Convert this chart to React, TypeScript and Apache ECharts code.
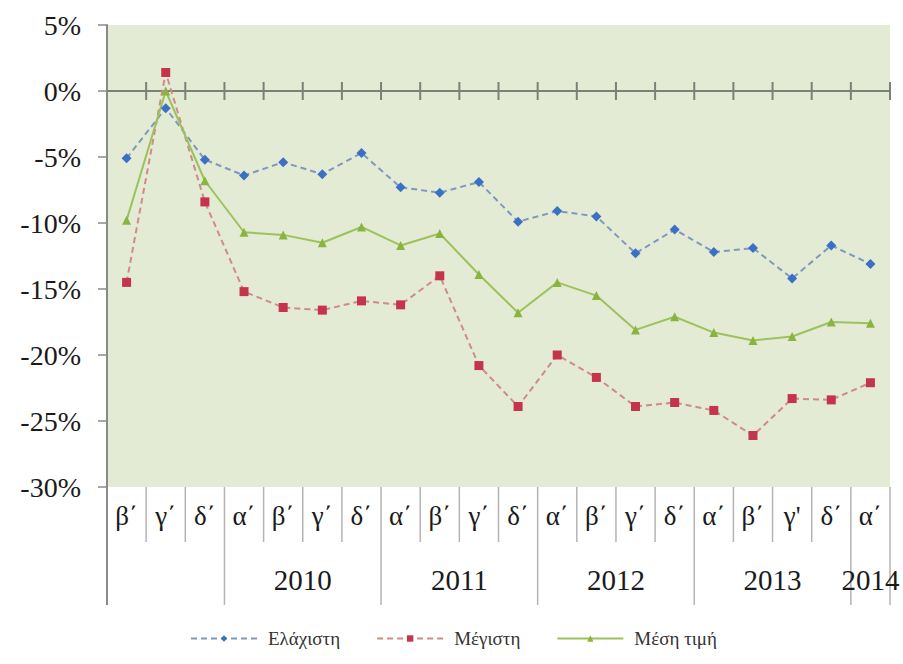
import React, { useEffect, useRef } from "react";
import * as echarts from "echarts";

// Quarter labels (x axis), grouped by year
const quarters = ["β΄", "γ΄", "δ΄", "α΄", "β΄", "γ΄", "δ΄", "α΄", "β΄", "γ΄", "δ΄", "α΄", "β΄", "γ΄", "δ΄", "α΄", "β΄", "γ'", "δ΄", "α΄"];
const yearLabels = ["", "2010", "2011", "2012", "2013", "2014"];
const yearGroupSizes = [3, 4, 4, 4, 4, 1];

// Series values (%)
const minValues = [-5.1, -1.3, -5.2, -6.4, -5.4, -6.3, -4.7, -7.3, -7.7, -6.9, -9.9, -9.1, -9.5, -12.3, -10.5, -12.2, -11.9, -14.2, -11.7, -13.1];
const maxValues = [-14.5, 1.4, -8.4, -15.2, -16.4, -16.6, -15.9, -16.2, -14.0, -20.8, -23.9, -20.0, -21.7, -23.9, -23.6, -24.2, -26.1, -23.3, -23.4, -22.1];
const avgValues = [-9.8, 0.0, -6.8, -10.7, -10.9, -11.5, -10.3, -11.7, -10.8, -13.9, -16.8, -14.5, -15.5, -18.1, -17.1, -18.3, -18.9, -18.6, -17.5, -17.6];

const seriesNames = ["Ελάχιστη", "Μέγιστη", "Μέση τιμή"];
const yMin = -30;
const yMax = 5;
const yInterval = 5;

const SERIF = "Liberation Serif";
const COLORS = {
  minMarker: "#3b70c4",
  minLine: "#7f98bf",
  maxMarker: "#c4344a",
  maxLine: "#d08a8a",
  avgMarker: "#8ab440",
  avgLine: "#9cc25c",
};

export default function App() {
  const ref = useRef<HTMLDivElement>(null);

  useEffect(() => {
    if (!ref.current) return;
    const chart = echarts.init(ref.current, null, { renderer: "svg" });
    const cats = quarters.map((q, i) => `${i}-${q}`);

    chart.setOption({
      animation: false,
      textStyle: { fontFamily: SERIF },
      grid: {
        left: 107,
        right: 13,
        top: 25,
        bottom: 177,
        show: true,
        backgroundColor: "#e3ebd5",
        borderWidth: 0,
      },
      xAxis: {
        type: "category",
        data: cats,
        boundaryGap: true,
        axisLine: { onZero: true, lineStyle: { color: "#7b8078", width: 2 } },
        axisTick: { show: false },
        axisLabel: { show: false },
        splitLine: { show: false },
      },
      yAxis: {
        type: "value",
        min: yMin,
        max: yMax,
        interval: yInterval,
        axisLine: { show: true, lineStyle: { color: "#8a8a8a", width: 2 } },
        axisTick: { show: true, length: 9, lineStyle: { color: "#8a8a8a", width: 1.5 } },
        splitLine: { show: false },
        axisLabel: {
          formatter: "{value}%",
          fontFamily: SERIF,
          fontSize: 28,
          color: "#1a1a1a",
          margin: 26,
        },
      },
      legend: {
        left: 185,
        top: 624,
        itemWidth: 66,
        itemHeight: 8,
        itemGap: 36,
        textStyle: { fontFamily: SERIF, fontSize: 19, color: "#333333", padding: [0, 0, 0, 6] },
        data: seriesNames,
      },
      series: [
        {
          name: seriesNames[0],
          type: "line",
          data: minValues,
          symbol: "diamond",
          symbolSize: 10,
          itemStyle: { color: COLORS.minMarker },
          lineStyle: { color: COLORS.minLine, width: 2, type: [6, 4] },
        },
        {
          name: seriesNames[1],
          type: "line",
          data: maxValues,
          symbol: "rect",
          symbolSize: 9,
          itemStyle: { color: COLORS.maxMarker },
          lineStyle: { color: COLORS.maxLine, width: 2, type: [6, 4] },
        },
        {
          name: seriesNames[2],
          type: "line",
          data: avgValues,
          symbol: "triangle",
          symbolSize: 9,
          itemStyle: { color: COLORS.avgMarker },
          lineStyle: { color: COLORS.avgLine, width: 2 },
        },
      ],
    });

    // Positions from the axis scales
    const cx = quarters.map((_, i) => chart.convertToPixel({ xAxisIndex: 0 }, i) as number);
    const band = cx[1] - cx[0];
    const left = cx[0] - band / 2;
    const yBottom = chart.convertToPixel({ yAxisIndex: 0 }, yMin) as number;
    const yZero = chart.convertToPixel({ yAxisIndex: 0 }, 0) as number;

    const yearBounds: number[] = [0];
    yearGroupSizes.forEach((s) => yearBounds.push(yearBounds[yearBounds.length - 1] + s));

    const elements: any[] = [];

    // ticks straddling the zero line
    for (let k = 1; k <= quarters.length; k++) {
      const x = left + k * band;
      elements.push({
        type: "line",
        shape: { x1: x, y1: yZero - 9, x2: x, y2: yZero + 9 },
        style: { stroke: "#7b8078", lineWidth: 2 },
        z: 10,
      });
    }
    // table separators
    for (let k = 0; k <= quarters.length; k++) {
      const x = left + k * band;
      const isYear = yearBounds.includes(k);
      elements.push({
        type: "line",
        shape: { x1: x, y1: yBottom, x2: x, y2: isYear ? yBottom + 118 : yBottom + 55 },
        style: { stroke: k === 0 ? "#8a8a8a" : "#b4b4b4", lineWidth: k === 0 ? 2 : 1.5 },
      });
    }
    // quarter labels
    quarters.forEach((q, i) => {
      elements.push({
        type: "text",
        x: cx[i],
        y: yBottom + 29,
        style: {
          text: q,
          fontFamily: SERIF,
          fontSize: 27,
          fill: "#1a1a1a",
          textAlign: "center",
          textVerticalAlign: "middle",
        },
      });
    });
    // year labels
    yearLabels.forEach((yl, g) => {
      if (!yl) return;
      const x = left + ((yearBounds[g] + yearBounds[g + 1]) / 2) * band;
      elements.push({
        type: "text",
        x,
        y: yBottom + 93,
        style: {
          text: yl,
          fontFamily: SERIF,
          fontSize: 29,
          fill: "#1a1a1a",
          textAlign: "center",
          textVerticalAlign: "middle",
        },
      });
    });

    chart.setOption({ graphic: { elements } });

    return () => chart.dispose();
  }, []);

  return (
    <div
      ref={ref}
      style={{ position: "fixed", left: 0, top: 0, width: 903, height: 664, background: "#ffffff" }}
    />
  );
}
